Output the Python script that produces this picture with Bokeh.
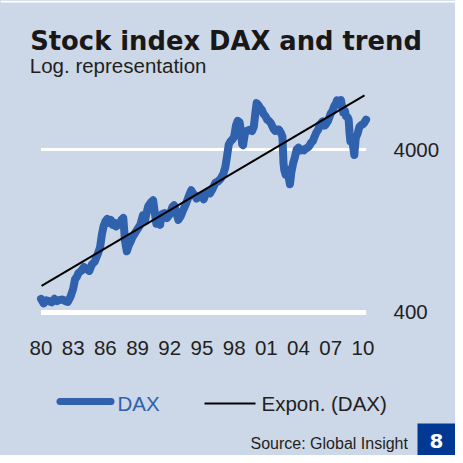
from bokeh.plotting import figure
from bokeh.layouts import column
from bokeh.models import FixedTicker, PrintfTickFormatter, Label, BoxAnnotation
from bokeh.embed import file_html
from bokeh.resources import INLINE

# ---- data ----
years = [1980.00, 1980.25, 1980.50, 1980.75, 1981.00, 1981.25, 1981.50, 1981.75,
         1982.00, 1982.25, 1982.50, 1982.75, 1983.00, 1983.17, 1983.33, 1983.50, 1983.75,
         1984.00, 1984.25, 1984.50, 1984.75, 1985.00, 1985.25, 1985.50, 1985.67, 1985.83,
         1986.00, 1986.17, 1986.33, 1986.50, 1986.67, 1986.83, 1987.00, 1987.17, 1987.33,
         1987.50, 1987.67, 1987.83, 1988.00, 1988.17, 1988.33, 1988.50, 1988.67, 1988.83,
         1989.00, 1989.25, 1989.50, 1989.67, 1989.83, 1990.00, 1990.25, 1990.45, 1990.60,
         1990.75, 1990.90, 1991.10, 1991.25, 1991.50, 1991.75, 1992.00, 1992.25, 1992.40,
         1992.60, 1992.80, 1993.00, 1993.25, 1993.50, 1993.75, 1994.00, 1994.17, 1994.33,
         1994.50, 1994.67, 1994.83, 1995.00, 1995.17, 1995.33, 1995.50, 1995.75, 1996.00,
         1996.25, 1996.50, 1996.75, 1997.00, 1997.17, 1997.33, 1997.50, 1997.67, 1997.83,
         1998.00, 1998.17, 1998.33, 1998.50, 1998.58, 1998.75, 1998.83, 1999.00, 1999.17,
         1999.33, 1999.50, 1999.67, 1999.83, 2000.00, 2000.10, 2000.25, 2000.42, 2000.58,
         2000.75, 2000.92, 2001.08, 2001.25, 2001.42, 2001.58, 2001.71, 2001.83, 2002.00,
         2002.17, 2002.33, 2002.50, 2002.60, 2002.67, 2002.80, 2002.92, 2003.08, 2003.20,
         2003.33, 2003.50, 2003.67, 2003.83, 2004.00, 2004.17, 2004.33, 2004.50, 2004.67,
         2004.83, 2005.00, 2005.17, 2005.33, 2005.50, 2005.67, 2005.83, 2006.00, 2006.25,
         2006.42, 2006.50, 2006.75, 2007.00, 2007.17, 2007.33, 2007.50, 2007.58, 2007.67,
         2007.83, 2007.95, 2008.08, 2008.17, 2008.33, 2008.42, 2008.58, 2008.67, 2008.75,
         2008.83, 2008.92, 2009.08, 2009.20, 2009.33, 2009.50, 2009.67, 2009.83, 2010.00,
         2010.17, 2010.30]
dax = [485, 455, 475, 470, 462, 485, 470, 478,
       480, 470, 465, 500, 560, 640, 660, 700, 720,
       760, 740, 720, 790, 820, 900, 1000, 1200, 1350,
       1450, 1500, 1420, 1480, 1380, 1420, 1350, 1380, 1420,
       1480, 1520, 1100, 950, 1030, 1080, 1150, 1200, 1250,
       1300, 1380, 1580, 1450, 1620, 1800, 1900, 1950, 1650,
       1400, 1420, 1380, 1600, 1630, 1520, 1600, 1780, 1820,
       1650, 1480, 1550, 1700, 1850, 2050, 2250, 2150, 2100,
       2000, 2060, 2050, 2080, 1980, 2120, 2200, 2150, 2300,
       2500, 2550, 2650, 2850, 3100, 3600, 4300, 4500, 4600,
       4800, 5600, 6000, 5900, 5500, 4300, 4250, 5000, 5200,
       5250, 5300, 5200, 5500, 6900, 7700, 7500, 7200, 7000,
       6600, 6400, 6100, 6000, 5800, 5500, 5300, 5200, 5300,
       5300, 5100, 4800, 3300, 3000, 2800, 3000, 2700, 2450,
       2900, 3300, 3600, 4000, 4100, 3950, 4000, 3950, 4050,
       4100, 4200, 4400, 4500, 4800, 5100, 5300, 5700, 5950,
       5600, 5650, 6000, 6650, 6900, 7400, 7700, 8000, 7550,
       8000, 8050, 7200, 6750, 6900, 6400, 6300, 6100, 5100,
       4500, 4800, 4200, 3700, 4700, 5000, 5500, 5650, 5700,
       5900, 6100]
trend_years = [1980.05, 2010.15]
trend_vals = [583, 8600]
x_ticks = [1980, 1983, 1986, 1989, 1992, 1995, 1998, 2001, 2004, 2007, 2010]
x_labels = ["80", "83", "86", "89", "92", "95", "98", "01", "04", "07", "10"]
y_ticks = [400, 4000]

BG = "#ccd7e8"
BLUE = "#3061ad"
TXT = "#231f20"
W = 455
CSS = {"background-color": BG}


def style(f):
    f.frame_align = False
    f.background_fill_color = BG
    f.border_fill_color = BG
    f.outline_line_color = None
    f.styles = CSS


def blank(h):
    f = figure(width=W, height=h, x_range=(0, 1), y_range=(0, 1),
               x_axis_location=None, y_axis_location=None,
               output_backend="svg", toolbar_location=None,
               min_border_left=0, min_border_right=0,
               min_border_top=0, min_border_bottom=0)
    style(f)
    f.grid.visible = False
    return f


def lab(f, x, y, text, size, color=TXT, font="Liberation Sans", style="normal",
        align="left"):
    # y is the vertical centre of the text line (screen px from the frame bottom)
    f.add_layout(Label(x=x, y=y, x_units="screen", y_units="screen", text=text,
                       text_font=font, text_font_size=f"{size}px", text_color=color,
                       text_font_style=style, text_align=align, text_baseline="middle"))


def box(f, l, r, b, t, color, radius=0):
    f.add_layout(BoxAnnotation(left=l, right=r, bottom=b, top=t,
                               left_units="screen", right_units="screen",
                               bottom_units="screen", top_units="screen",
                               fill_color=color, fill_alpha=1, line_color=None,
                               border_radius=radius))


# ---- top: title block (page y 8..90) ----
top = blank(82)
box(top, 0, W, 80, 82, "white")
lab(top, 29.7, 90 - 48.4, "Stock index DAX and trend", 25.8, color="#1a1718",
    font="DejaVu Sans", style="bold")
lab(top, 29.3, 90 - 72.9, "Log. representation", 20.5)

# ---- main chart (page y 90..375) ----
p = figure(width=W, height=285,
           x_range=(1978.276, 2011.826), y_range=(323.6, 9604),
           y_axis_type="log", y_axis_location="right",
           output_backend="svg", toolbar_location=None,
           min_border_left=22, min_border_right=73,
           min_border_top=5, min_border_bottom=40)
style(p)
p.xgrid.visible = False
p.ygrid.visible = False

xa = p.xaxis[0]
xa.ticker = FixedTicker(ticks=x_ticks)
xa.major_label_overrides = {t: l for t, l in zip(x_ticks, x_labels)}
xa.axis_line_color = None
xa.major_tick_line_color = None
xa.minor_tick_line_color = None
xa.major_label_standoff = 7
xa.major_label_text_font = "Liberation Sans"
xa.major_label_text_font_size = "20.5px"
xa.major_label_text_color = TXT

ya = p.yaxis[0]
ya.ticker = FixedTicker(ticks=y_ticks)
ya.formatter = PrintfTickFormatter(format="%d")
ya.axis_line_color = None
ya.major_tick_line_color = None
ya.minor_tick_line_color = None
ya.major_label_standoff = 5
ya.major_label_text_font = "Liberation Sans"
ya.major_label_text_font_size = "20.5px"
ya.major_label_text_color = TXT

# white reference lines at the tick values, spanning the data period
p.segment(x0=[years[0]] * 2, x1=[years[-1]] * 2, y0=y_ticks, y1=y_ticks,
          line_color="white", line_width=[5, 3], line_cap="butt")

p.line(years, dax, line_color=BLUE, line_width=8, line_join="round", line_cap="round")
p.line(trend_years, trend_vals, line_color="black", line_width=2)

# ---- bottom: legend, source, page number (page y 375..463) ----
bot = blank(88)
box(bot, 56, 114, 463 - 412.5, 463 - 405.5, BLUE, radius=4)
lab(bot, 117, 463 - 410.9, "DAX", 20.5, color=BLUE)
box(bot, 204, 255, 463 - 412, 463 - 410, "black")
lab(bot, 261, 463 - 410.9, "Expon. (DAX)", 20.5)
lab(bot, 250, 463 - 450.5, "Source: Global Insight", 16)
box(bot, 417, W, 0, 463 - 431, "#003893")
lab(bot, 436, 463 - 448, "8", 20, color="white", font="DejaVu Sans", style="bold",
    align="center")

layout = column(top, p, bot, spacing=0)
layout.styles = CSS
open("out.html", "w").write(file_html(layout, INLINE))
